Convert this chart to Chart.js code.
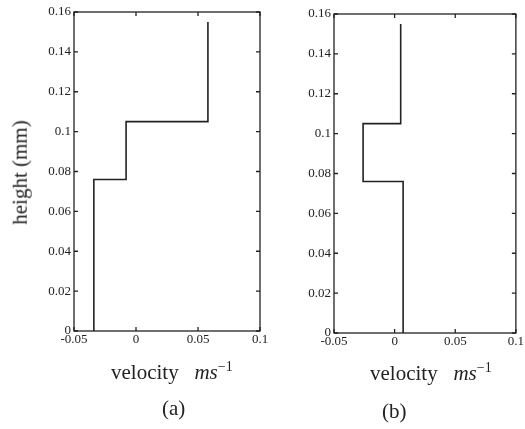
<!DOCTYPE html>
<html>
<head>
<meta charset="utf-8">
<script src="https://cdn.jsdelivr.net/npm/chart.js@4.4.0/dist/chart.umd.min.js"></script>
<style>
  body { margin: 0; background: #fff; width: 525px; height: 429px; position: relative; overflow: hidden; font-family: "Liberation Serif", "DejaVu Serif", serif; color: #222; }
  .panel { position: absolute; top: 0; height: 429px; }
  .lbl { position: absolute; font-size: 21px; white-space: nowrap; }
  .ylab { transform: rotate(-90deg); transform-origin: center; }
</style>
</head>
<body>
<div class="panel" style="left:0;width:270px"><canvas id="chartA"></canvas></div>
<div class="panel" style="left:262px;width:263px"><canvas id="chartB"></canvas></div>

<div class="lbl ylab" style="left:-32px;top:160px;">height (mm)</div>
<div class="lbl" style="left:111px;top:359px;">velocity&nbsp;&nbsp; <i>ms</i><sup style="font-size:14px">&minus;1</sup></div>
<div class="lbl" style="left:370px;top:360px;">velocity&nbsp;&nbsp; <i>ms</i><sup style="font-size:14px">&minus;1</sup></div>
<div class="lbl" style="left:162px;top:396px;">(a)</div>
<div class="lbl" style="left:382px;top:399px;">(b)</div>

<script>
// DATA: layered velocity profile, one velocity per layer
const layerBottoms = [0, 0.076, 0.105];
const layerTops    = [0.076, 0.105, 0.155];
const velocityA    = [-0.034, -0.008, 0.058];
const velocityB    = [0.007, -0.026, 0.005];

const xTicks = [-0.05, 0, 0.05, 0.1];
const yTicks = [0, 0.02, 0.04, 0.06, 0.08, 0.1, 0.12, 0.14, 0.16];

const INK = '#222';

// step profile points from the layer arrays
function profilePoints(vel) {
    const pts = [];
    vel.forEach((v, i) => {
        pts.push({ x: v, y: layerBottoms[i] });
        pts.push({ x: v, y: layerTops[i] });
    });
    return pts;
}

// frame + inward tick marks on all four sides
const frameTicks = {
    id: 'frameTicks',
    afterDraw(chart) {
        const { ctx, chartArea: a, scales } = chart;
        ctx.save();
        ctx.strokeStyle = INK;
        ctx.lineWidth = 1.3;
        ctx.strokeRect(a.left, a.top, a.right - a.left, a.bottom - a.top);
        const len = 4;
        ctx.beginPath();
        xTicks.forEach(t => {
            const px = scales.x.getPixelForValue(t);
            ctx.moveTo(px, a.bottom); ctx.lineTo(px, a.bottom - len);
            ctx.moveTo(px, a.top); ctx.lineTo(px, a.top + len);
        });
        yTicks.forEach(t => {
            const py = scales.y.getPixelForValue(t);
            ctx.moveTo(a.left, py); ctx.lineTo(a.left + len, py);
            ctx.moveTo(a.right, py); ctx.lineTo(a.right - len, py);
        });
        ctx.stroke();
        ctx.restore();
    }
};

function fmt(v) { return String(Number(v.toFixed(2))); }

function makeChart(id, vel, pad) {
    const ctx = document.getElementById(id).getContext('2d');
    return new Chart(ctx, {
        type: 'scatter',
        data: {
            datasets: [{
                data: profilePoints(vel),
                showLine: true,
                borderColor: INK,
                borderWidth: 1.6,
                pointRadius: 0,
                fill: false
            }]
        },
        options: {
            responsive: true,
            maintainAspectRatio: false,
            animation: false,
            layout: { padding: pad },
            plugins: { legend: { display: false }, tooltip: { enabled: false } },
            scales: {
                x: {
                    type: 'linear', min: -0.05, max: 0.1,
                    afterBuildTicks: s => { s.ticks = xTicks.map(v => ({ value: v })); },
                    afterFit: s => { s.height = 20; },
                    grid: { display: false, drawTicks: false },
                    border: { display: false },
                    ticks: { color: INK, padding: 1, maxRotation: 0, font: { family: 'Liberation Serif', size: 13 }, callback: fmt }
                },
                y: {
                    type: 'linear', min: 0, max: 0.16,
                    afterBuildTicks: s => { s.ticks = yTicks.map(v => ({ value: v })); },
                    afterFit: s => { s.width = 40; },
                    grid: { display: false, drawTicks: false },
                    border: { display: false },
                    ticks: { color: INK, padding: 3, font: { family: 'Liberation Serif', size: 13 }, callback: fmt }
                }
            }
        },
        plugins: [frameTicks]
    });
}

makeChart('chartA', velocityA, { left: 34, right: 10, top: 12, bottom: 78 });
makeChart('chartB', velocityB, { left: 32, right: 4, top: 14, bottom: 76 });
</script>
</body>
</html>
